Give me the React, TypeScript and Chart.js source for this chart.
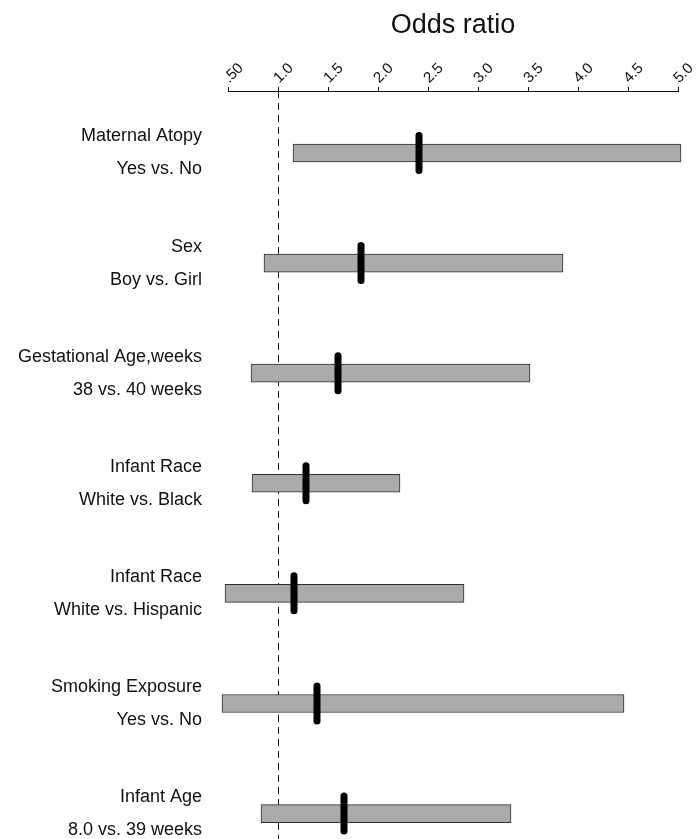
import React, { useEffect, useRef } from 'react';
import { Chart, registerables } from 'chart.js';

Chart.register(...registerables);

// ---- data ----
const ROW_LABELS: string[][] = [
  ['Maternal Atopy', 'Yes vs. No'],
  ['Sex', 'Boy vs. Girl'],
  ['Gestational Age,weeks', '38 vs. 40 weeks'],
  ['Infant Race', 'White vs. Black'],
  ['Infant Race', 'White vs. Hispanic'],
  ['Smoking Exposure', 'Yes vs. No'],
  ['Infant Age', '8.0 vs. 39 weeks'],
];
const ODDS_RATIO = [2.41, 1.83, 1.6, 1.28, 1.16, 1.39, 1.66];
const CI_LOW = [1.15, 0.86, 0.73, 0.74, 0.47, 0.44, 0.83];
const CI_HIGH = [5.03, 3.85, 3.52, 2.22, 2.86, 4.46, 3.33];
const TICK_VALUES = [0.5, 1.0, 1.5, 2.0, 2.5, 3.0, 3.5, 4.0, 4.5, 5.0];
const TICK_LABELS = ['.50', '1.0', '1.5', '2.0', '2.5', '3.0', '3.5', '4.0', '4.5', '5.0'];
const REFERENCE_OR = 1.0;
const AXIS_TITLE = 'Odds ratio';

const FONT = "'Liberation Sans', Arial, Helvetica, sans-serif";

const refLinePlugin = {
  id: 'refLine',
  beforeDatasetsDraw(chart: any) {
    const { ctx, chartArea, scales } = chart;
    const x = Math.round(scales.x.getPixelForValue(REFERENCE_OR)) + 0.5;
    ctx.save();
    ctx.strokeStyle = '#1a1a1a';
    ctx.lineWidth = 1;
    ctx.setLineDash([7, 5]);
    ctx.beginPath();
    ctx.moveTo(x, chartArea.top);
    ctx.lineTo(x, chart.height);
    ctx.stroke();
    ctx.restore();
  },
};

const roundCapPlugin = {
  id: 'roundCap',
  beforeDatasetDraw(chart: any, args: any) {
    if (args.index === 1) {
      chart.ctx.save();
      chart.ctx.lineCap = 'round';
    }
  },
  afterDatasetDraw(chart: any, args: any) {
    if (args.index === 1) {
      chart.ctx.restore();
    }
  },
};

export default function App() {
  const canvasRef = useRef<HTMLCanvasElement | null>(null);

  useEffect(() => {
    if (!canvasRef.current) return;
    Chart.defaults.font.family = FONT;
    const chart = new Chart(canvasRef.current, {
      type: 'bar',
      data: {
        datasets: [
          {
            type: 'bar',
            data: ROW_LABELS.map((_, i) => ({ x: [CI_LOW[i], CI_HIGH[i]], y: i })) as any,
            backgroundColor: '#aaaaaa',
            borderColor: '#2e2e2e',
            borderWidth: 1,
            borderSkipped: false,
            barThickness: 18,
            clip: false as any,
            order: 1,
          } as any,
          {
            type: 'scatter',
            data: ROW_LABELS.map((_, i) => ({ x: ODDS_RATIO[i], y: i })),
            pointStyle: 'line',
            rotation: 90,
            radius: 17.5,
            hoverRadius: 17.5,
            borderWidth: 7,
            borderColor: '#000',
            backgroundColor: '#000',
            clip: false as any,
            order: 0,
          } as any,
        ],
      },
      options: {
        responsive: false,
        animation: false,
        indexAxis: 'y',
        layout: { autoPadding: false, padding: { left: 0, top: 0, right: 19, bottom: 0 } },
        plugins: {
          legend: { display: false },
          tooltip: { enabled: false },
          title: { display: false },
        },
        scales: {
          x: {
            type: 'linear',
            position: 'top',
            min: 0.5,
            max: 5.0,
            bounds: 'data',
            offset: false,
            afterBuildTicks: (scale: any) => {
              scale.ticks = TICK_VALUES.map((v) => ({ value: v }));
            },
            afterFit: (scale: any) => {
              scale.height = 91;
              scale.paddingLeft = 0;
              scale.paddingRight = 0;
            },
            ticks: {
              autoSkip: false,
              minRotation: 45,
              maxRotation: 45,
              padding: 0,
              labelOffset: 11,
              color: '#111',
              font: { size: 15, family: FONT },
              callback: (_v: any, index: number) => TICK_LABELS[index],
            },
            grid: {
              display: true,
              drawOnChartArea: false,
              drawTicks: true,
              tickLength: 4,
              tickColor: '#111',
              lineWidth: 1,
            },
            border: { display: true, color: '#111', width: 1 },
            title: {
              display: true,
              text: AXIS_TITLE,
              color: '#111',
              font: { size: 27, family: FONT },
              padding: { top: 9, bottom: 0 },
            },
          },
          y: {
            type: 'linear',
            reverse: true,
            min: -0.563,
            max: 6.231,
            bounds: 'data',
            offset: false,
            afterBuildTicks: (scale: any) => {
              scale.ticks = ROW_LABELS.map((_, i) => ({ value: i }));
            },
            afterFit: (scale: any) => {
              scale.width = 228;
              scale.paddingTop = 0;
              scale.paddingBottom = 0;
            },
            ticks: {
              autoSkip: false,
              padding: 26,
              color: '#111',
              font: { size: 18, family: FONT, lineHeight: 33 / 18 },
              callback: (_v: any, index: number) => ROW_LABELS[index],
            },
            grid: { display: false, drawTicks: false, drawOnChartArea: false, offset: false },
            border: { display: false },
          },
        },
      },
      plugins: [refLinePlugin, roundCapPlugin],
    } as any);
    return () => chart.destroy();
  }, []);

  return (
    <div style={{ position: 'absolute', left: 0, top: 0, width: 697, height: 839, background: '#fff' }}>
      <canvas ref={canvasRef} width={697} height={839} style={{ display: 'block' }} />
    </div>
  );
}
